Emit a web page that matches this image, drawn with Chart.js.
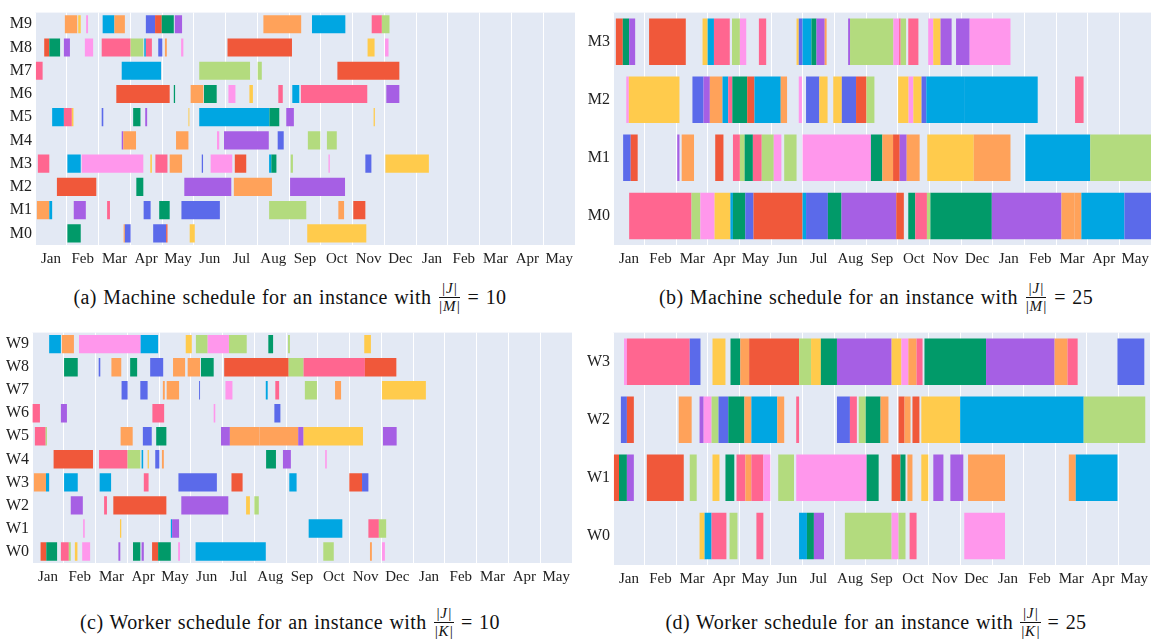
<!DOCTYPE html>
<html>
<head>
<meta charset="utf-8">
<script src="https://cdn.jsdelivr.net/npm/chart.js@4.4.1/dist/chart.umd.min.js"></script>
<style>
  body { margin: 0; background: #fff; width: 1156px; height: 639px; position: relative; overflow: hidden; font-family: 'Liberation Serif', serif; }
  .panel { position: absolute; }
  .cap { position: absolute; font-size: 20px; letter-spacing: 0.4px; word-spacing: 1px; color: #111; display: flex; align-items: center; justify-content: center; white-space: nowrap; height: 36px; }
  .frac { display: inline-flex; flex-direction: column; align-items: center; font-size: 15px; font-style: italic; margin: 0 7px; line-height: 15px; letter-spacing: 0.5px; }
  .frac span:first-child { border-bottom: 1px solid #111; padding: 0 2px 1px; }
  .frac span:last-child { padding-top: 1px; }
</style>
</head>
<body>
<div class="panel" style="left:0;top:0"><canvas id="chartA" width="580" height="272"></canvas></div>
<div class="panel" style="left:580px;top:0"><canvas id="chartB" width="576" height="272"></canvas></div>
<div class="panel" style="left:0;top:320px"><canvas id="chartC" width="580" height="272"></canvas></div>
<div class="panel" style="left:580px;top:320px"><canvas id="chartD" width="576" height="272"></canvas></div>

<div class="cap" style="left:0;top:279px;width:580px">(a) Machine schedule for an instance with<span class="frac"><span>|J|</span><span>|M|</span></span>= 10</div>
<div class="cap" style="left:596px;top:279px;width:560px">(b) Machine schedule for an instance with<span class="frac"><span>|J|</span><span>|M|</span></span>= 25</div>
<div class="cap" style="left:0;top:604px;width:580px">(c) Worker schedule for an instance with<span class="frac"><span>|J|</span><span>|K|</span></span>= 10</div>
<div class="cap" style="left:596px;top:604px;width:560px">(d) Worker schedule for an instance with<span class="frac"><span>|J|</span><span>|K|</span></span>= 25</div>

<script>
// month tick labels (one per month column, x in months from Jan 1)
const months = ['Jan', 'Feb', 'Mar', 'Apr', 'May', 'Jun', 'Jul', 'Aug', 'Sep', 'Oct', 'Nov', 'Dec', 'Jan', 'Feb', 'Mar', 'Apr', 'May'];

const machRows10 = ['M9', 'M8', 'M7', 'M6', 'M5', 'M4', 'M3', 'M2', 'M1', 'M0'];
const machRows25 = ['M3', 'M2', 'M1', 'M0'];
const workRows10 = ['W9', 'W8', 'W7', 'W6', 'W5', 'W4', 'W3', 'W2', 'W1', 'W0'];
const workRows25 = ['W3', 'W2', 'W1', 'W0'];

const colors = {
    blue: '#5B6AEA', red: '#F0583A', green: '#019A69', purple: '#A65FE4', orange: '#FFA25A',
    cyan: '#00A6E2', pink: '#FF6690', lime: '#B3DB7E', magenta: '#FF97EC', yellow: '#FFCB4C'
};

// [row, start month, end month, job colour]
const machA = [
    ['M9', 0.94, 1.33, 'orange'], ['M9', 1.36, 1.44, 'yellow'], ['M9', 1.61, 1.67, 'magenta'], ['M9', 2.13, 2.50, 'cyan'],
    ['M9', 2.50, 2.83, 'orange'], ['M9', 3.49, 3.78, 'blue'], ['M9', 3.78, 3.99, 'red'], ['M9', 3.99, 4.37, 'green'],
    ['M9', 4.40, 4.63, 'purple'], ['M9', 7.19, 8.38, 'orange'], ['M9', 8.72, 9.77, 'cyan'], ['M9', 10.60, 10.92, 'pink'],
    ['M9', 10.92, 11.16, 'lime'],
    ['M8', 0.29, 0.45, 'red'], ['M8', 0.45, 0.79, 'green'], ['M8', 0.91, 1.10, 'purple'], ['M8', 1.57, 1.83, 'magenta'],
    ['M8', 2.10, 3.01, 'pink'], ['M8', 3.01, 3.41, 'lime'], ['M8', 3.44, 3.49, 'cyan'], ['M8', 3.49, 3.68, 'pink'],
    ['M8', 3.88, 4.01, 'blue'], ['M8', 4.09, 4.15, 'orange'], ['M8', 4.60, 4.67, 'magenta'], ['M8', 6.06, 8.09, 'red'],
    ['M8', 10.47, 10.69, 'yellow'], ['M8', 11.02, 11.13, 'magenta'],
    ['M7', 0.03, 0.24, 'pink'], ['M7', 2.73, 3.97, 'cyan'], ['M7', 5.17, 6.77, 'lime'], ['M7', 7.01, 7.14, 'lime'],
    ['M7', 9.52, 11.47, 'red'],
    ['M6', 2.56, 4.24, 'red'], ['M6', 4.37, 4.41, 'green'], ['M6', 4.90, 5.30, 'orange'], ['M6', 5.32, 5.72, 'green'],
    ['M6', 6.09, 6.31, 'magenta'], ['M6', 6.75, 6.86, 'yellow'], ['M6', 7.66, 7.80, 'pink'], ['M6', 8.10, 8.32, 'cyan'],
    ['M6', 8.37, 10.46, 'pink'], ['M6', 11.06, 11.47, 'purple'],
    ['M5', 0.54, 0.91, 'cyan'], ['M5', 0.91, 1.16, 'pink'], ['M5', 1.16, 1.21, 'yellow'], ['M5', 2.10, 2.15, 'blue'],
    ['M5', 3.09, 3.32, 'green'], ['M5', 3.47, 3.53, 'purple'], ['M5', 4.83, 4.86, 'yellow'], ['M5', 5.17, 7.38, 'cyan'],
    ['M5', 7.38, 7.69, 'green'], ['M5', 7.91, 8.15, 'purple'], ['M5', 10.66, 10.70, 'yellow'],
    ['M4', 2.73, 2.78, 'purple'], ['M4', 2.78, 3.18, 'orange'], ['M4', 4.44, 4.83, 'orange'], ['M4', 5.73, 5.80, 'magenta'],
    ['M4', 5.95, 7.36, 'purple'], ['M4', 7.64, 7.83, 'blue'], ['M4', 8.59, 8.98, 'lime'], ['M4', 9.19, 9.50, 'lime'],
    ['M3', 0.09, 0.45, 'pink'], ['M3', 1.02, 1.44, 'cyan'], ['M3', 1.47, 3.41, 'magenta'], ['M3', 3.63, 3.68, 'yellow'],
    ['M3', 3.79, 4.17, 'pink'], ['M3', 4.24, 4.63, 'orange'], ['M3', 5.25, 5.29, 'blue'], ['M3', 5.53, 6.21, 'magenta'],
    ['M3', 6.29, 6.65, 'red'], ['M3', 7.37, 7.44, 'cyan'], ['M3', 7.44, 7.60, 'green'], ['M3', 8.05, 8.12, 'lime'],
    ['M3', 9.24, 9.28, 'magenta'], ['M3', 10.40, 10.59, 'blue'], ['M3', 11.03, 12.40, 'yellow'],
    ['M2', 0.69, 1.93, 'red'], ['M2', 3.19, 3.41, 'green'], ['M2', 4.70, 6.18, 'purple'], ['M2', 6.26, 7.46, 'orange'],
    ['M2', 8.03, 9.76, 'purple'],
    ['M1', 0.06, 0.45, 'orange'], ['M1', 0.45, 0.54, 'cyan'], ['M1', 1.22, 1.60, 'purple'], ['M1', 2.27, 2.36, 'pink'],
    ['M1', 3.42, 3.64, 'blue'], ['M1', 3.91, 4.24, 'green'], ['M1', 4.61, 5.82, 'blue'], ['M1', 7.37, 8.54, 'lime'],
    ['M1', 9.55, 9.73, 'orange'], ['M1', 10.02, 10.40, 'red'],
    ['M0', 1.02, 1.44, 'green'], ['M0', 2.79, 2.83, 'orange'], ['M0', 2.83, 3.01, 'blue'], ['M0', 3.72, 4.13, 'blue'],
    ['M0', 4.13, 4.17, 'red'], ['M0', 4.87, 5.03, 'yellow'], ['M0', 8.57, 10.43, 'yellow']
];

const machB = [
    ['M3', 0.09, 0.31, 'red'], ['M3', 0.31, 0.51, 'green'], ['M3', 0.51, 0.70, 'purple'], ['M3', 1.14, 2.30, 'red'],
    ['M3', 2.83, 2.99, 'yellow'], ['M3', 2.99, 3.19, 'cyan'], ['M3', 3.19, 3.69, 'pink'], ['M3', 3.76, 4.01, 'lime'],
    ['M3', 4.01, 4.21, 'magenta'], ['M3', 4.61, 4.84, 'pink'], ['M3', 5.80, 5.87, 'yellow'], ['M3', 5.87, 5.99, 'blue'],
    ['M3', 5.99, 6.27, 'cyan'], ['M3', 6.27, 6.43, 'green'], ['M3', 6.43, 6.69, 'purple'], ['M3', 6.69, 6.75, 'orange'],
    ['M3', 7.43, 7.49, 'purple'], ['M3', 7.49, 8.86, 'lime'], ['M3', 8.86, 9.04, 'magenta'], ['M3', 9.04, 9.09, 'pink'],
    ['M3', 9.09, 9.26, 'lime'], ['M3', 9.33, 9.65, 'pink'], ['M3', 9.96, 10.12, 'magenta'], ['M3', 10.12, 10.35, 'yellow'],
    ['M3', 10.35, 10.70, 'purple'], ['M3', 10.84, 11.27, 'purple'], ['M3', 11.27, 12.56, 'magenta'],
    ['M2', 0.42, 0.50, 'magenta'], ['M2', 0.50, 2.10, 'yellow'], ['M2', 2.51, 2.86, 'blue'], ['M2', 2.86, 3.06, 'purple'],
    ['M2', 3.06, 3.46, 'orange'], ['M2', 3.46, 3.64, 'cyan'], ['M2', 3.64, 3.77, 'pink'], ['M2', 3.77, 4.24, 'green'],
    ['M2', 4.24, 4.47, 'red'], ['M2', 4.47, 5.30, 'cyan'], ['M2', 5.30, 5.50, 'orange'], ['M2', 5.87, 5.97, 'magenta'],
    ['M2', 6.10, 6.52, 'blue'], ['M2', 6.52, 6.78, 'yellow'], ['M2', 6.96, 7.23, 'yellow'], ['M2', 7.23, 7.68, 'blue'],
    ['M2', 7.68, 8.01, 'red'], ['M2', 8.01, 8.26, 'lime'], ['M2', 9.01, 9.34, 'yellow'], ['M2', 9.34, 9.49, 'magenta'],
    ['M2', 9.49, 9.75, 'yellow'], ['M2', 9.75, 9.90, 'blue'], ['M2', 9.90, 11.12, 'cyan'], ['M2', 11.12, 13.42, 'cyan'],
    ['M2', 14.60, 14.87, 'pink'],
    ['M1', 0.32, 0.56, 'blue'], ['M1', 0.56, 0.78, 'red'], ['M1', 2.03, 2.10, 'purple'], ['M1', 2.17, 2.56, 'orange'],
    ['M1', 3.23, 3.49, 'red'], ['M1', 3.79, 4.01, 'pink'], ['M1', 4.01, 4.16, 'lime'], ['M1', 4.16, 4.42, 'green'],
    ['M1', 4.42, 4.70, 'pink'], ['M1', 4.70, 5.08, 'lime'], ['M1', 5.08, 5.32, 'magenta'], ['M1', 5.41, 5.80, 'lime'],
    ['M1', 5.99, 8.15, 'magenta'], ['M1', 8.15, 8.51, 'green'], ['M1', 8.51, 8.85, 'orange'], ['M1', 8.85, 9.06, 'red'],
    ['M1', 9.06, 9.28, 'purple'], ['M1', 9.28, 9.69, 'orange'], ['M1', 9.93, 11.40, 'yellow'], ['M1', 11.40, 12.56, 'orange'],
    ['M1', 13.03, 15.08, 'cyan'], ['M1', 15.08, 17.0, 'lime'],
    ['M0', 0.51, 2.48, 'pink'], ['M0', 2.48, 2.76, 'lime'], ['M0', 2.76, 3.21, 'magenta'], ['M0', 3.21, 3.71, 'yellow'],
    ['M0', 3.71, 3.79, 'cyan'], ['M0', 3.79, 4.18, 'green'], ['M0', 4.18, 4.44, 'blue'], ['M0', 4.44, 5.99, 'red'],
    ['M0', 5.99, 6.10, 'cyan'], ['M0', 6.10, 6.79, 'blue'], ['M0', 6.79, 7.22, 'green'], ['M0', 7.22, 8.95, 'purple'],
    ['M0', 8.95, 9.19, 'red'], ['M0', 9.33, 9.55, 'green'], ['M0', 9.55, 9.92, 'pink'], ['M0', 9.92, 10.03, 'lime'],
    ['M0', 10.03, 11.97, 'green'], ['M0', 11.97, 14.17, 'purple'], ['M0', 14.17, 14.59, 'orange'], ['M0', 14.59, 14.80, 'orange'],
    ['M0', 14.80, 16.16, 'cyan'], ['M0', 16.16, 17.0, 'blue']
];

const workC = [
    ['W9', 0.54, 0.91, 'cyan'], ['W9', 0.94, 1.32, 'orange'], ['W9', 1.48, 3.42, 'magenta'], ['W9', 3.42, 3.97, 'cyan'],
    ['W9', 4.84, 5.03, 'yellow'], ['W9', 5.16, 5.53, 'lime'], ['W9', 5.53, 6.20, 'magenta'], ['W9', 6.20, 6.76, 'lime'],
    ['W9', 7.44, 7.59, 'green'], ['W9', 8.06, 8.12, 'lime'], ['W9', 10.46, 10.67, 'yellow'],
    ['W8', 1.01, 1.44, 'green'], ['W8', 2.10, 2.15, 'blue'], ['W8', 2.50, 2.81, 'orange'], ['W8', 3.09, 3.31, 'green'],
    ['W8', 3.72, 4.13, 'blue'], ['W8', 4.44, 4.82, 'orange'], ['W8', 4.90, 5.29, 'orange'], ['W8', 5.32, 5.72, 'green'],
    ['W8', 6.05, 8.08, 'red'], ['W8', 8.08, 8.55, 'lime'], ['W8', 8.55, 10.48, 'pink'], ['W8', 10.48, 11.47, 'red'],
    ['W7', 2.82, 3.01, 'blue'], ['W7', 3.41, 3.64, 'blue'], ['W7', 4.12, 4.18, 'orange'], ['W7', 4.24, 4.63, 'orange'],
    ['W7', 5.26, 5.29, 'blue'], ['W7', 6.09, 6.31, 'magenta'], ['W7', 7.36, 7.42, 'cyan'], ['W7', 7.66, 7.78, 'pink'],
    ['W7', 8.59, 8.97, 'lime'], ['W7', 9.54, 9.73, 'orange'], ['W7', 11.02, 12.40, 'yellow'],
    ['W6', 0.02, 0.25, 'pink'], ['W6', 0.91, 1.10, 'purple'], ['W6', 3.79, 4.16, 'pink'], ['W6', 5.72, 5.77, 'magenta'],
    ['W6', 7.63, 7.82, 'blue'],
    ['W5', 0.09, 0.43, 'pink'], ['W5', 0.43, 0.47, 'lime'], ['W5', 2.79, 3.17, 'orange'], ['W5', 3.49, 3.77, 'blue'],
    ['W5', 3.91, 4.23, 'green'], ['W5', 5.95, 6.23, 'purple'], ['W5', 6.23, 7.16, 'orange'], ['W5', 7.16, 8.38, 'orange'],
    ['W5', 8.38, 8.55, 'purple'], ['W5', 8.55, 10.42, 'yellow'], ['W5', 11.05, 11.48, 'purple'],
    ['W4', 0.68, 1.92, 'red'], ['W4', 2.11, 3.01, 'pink'], ['W4', 3.01, 3.41, 'lime'], ['W4', 3.45, 3.50, 'cyan'],
    ['W4', 3.64, 3.68, 'yellow'], ['W4', 3.88, 4.01, 'blue'], ['W4', 4.09, 4.15, 'orange'], ['W4', 7.37, 7.68, 'green'],
    ['W4', 7.90, 8.15, 'purple'], ['W4', 9.23, 9.28, 'magenta'],
    ['W3', 0.06, 0.44, 'orange'], ['W3', 0.44, 0.54, 'cyan'], ['W3', 1.01, 1.44, 'cyan'], ['W3', 2.13, 2.49, 'cyan'],
    ['W3', 3.52, 3.67, 'pink'], ['W3', 4.61, 5.82, 'blue'], ['W3', 6.28, 6.63, 'red'], ['W3', 8.10, 8.33, 'cyan'],
    ['W3', 9.99, 10.39, 'red'], ['W3', 10.39, 10.59, 'blue'],
    ['W2', 1.22, 1.60, 'purple'], ['W2', 2.27, 2.36, 'pink'], ['W2', 2.56, 4.23, 'red'], ['W2', 4.70, 6.18, 'purple'],
    ['W2', 6.74, 6.86, 'yellow'], ['W2', 7.00, 7.14, 'lime'],
    ['W1', 1.61, 1.66, 'magenta'], ['W1', 2.77, 2.81, 'yellow'], ['W1', 4.37, 4.41, 'cyan'], ['W1', 4.41, 4.63, 'purple'],
    ['W1', 8.71, 9.77, 'cyan'], ['W1', 10.59, 10.92, 'pink'], ['W1', 10.92, 11.15, 'lime'],
    ['W0', 0.27, 0.45, 'red'], ['W0', 0.45, 0.79, 'green'], ['W0', 0.91, 1.16, 'pink'], ['W0', 1.16, 1.22, 'lime'],
    ['W0', 1.35, 1.43, 'yellow'], ['W0', 1.58, 1.83, 'magenta'], ['W0', 2.72, 2.78, 'purple'], ['W0', 3.18, 3.41, 'green'],
    ['W0', 3.45, 3.52, 'purple'], ['W0', 3.78, 3.97, 'red'], ['W0', 3.97, 4.37, 'green'], ['W0', 4.60, 4.66, 'magenta'],
    ['W0', 5.15, 7.36, 'cyan'], ['W0', 9.17, 9.50, 'lime'], ['W0', 10.64, 10.70, 'orange'], ['W0', 11.02, 11.11, 'magenta']
];

const workD = [
    ['W3', 0.35, 0.44, 'magenta'], ['W3', 0.44, 2.43, 'pink'], ['W3', 2.43, 2.77, 'blue'], ['W3', 3.15, 3.56, 'yellow'],
    ['W3', 3.72, 4.03, 'green'], ['W3', 4.03, 4.31, 'orange'], ['W3', 4.31, 5.89, 'red'], ['W3', 5.89, 6.27, 'lime'],
    ['W3', 6.27, 6.58, 'yellow'], ['W3', 6.58, 7.09, 'green'], ['W3', 7.09, 8.82, 'purple'], ['W3', 8.82, 9.13, 'yellow'],
    ['W3', 9.13, 9.35, 'magenta'], ['W3', 9.35, 9.61, 'orange'], ['W3', 9.61, 9.80, 'pink'], ['W3', 9.86, 11.81, 'green'],
    ['W3', 11.81, 13.98, 'purple'], ['W3', 13.98, 14.39, 'orange'], ['W3', 14.39, 14.71, 'pink'], ['W3', 15.97, 16.82, 'blue'],
    ['W2', 0.25, 0.44, 'blue'], ['W2', 0.44, 0.66, 'red'], ['W2', 2.08, 2.49, 'orange'], ['W2', 2.74, 2.87, 'purple'],
    ['W2', 2.87, 3.12, 'magenta'], ['W2', 3.12, 3.34, 'lime'], ['W2', 3.34, 3.65, 'blue'], ['W2', 3.65, 4.16, 'green'],
    ['W2', 4.16, 4.38, 'orange'], ['W2', 4.38, 5.20, 'cyan'], ['W2', 5.20, 5.42, 'orange'], ['W2', 5.80, 5.89, 'pink'],
    ['W2', 7.09, 7.50, 'blue'], ['W2', 7.50, 7.72, 'pink'], ['W2', 7.78, 8.00, 'lime'], ['W2', 8.00, 8.47, 'green'],
    ['W2', 8.47, 8.72, 'orange'], ['W2', 9.04, 9.23, 'red'], ['W2', 9.23, 9.42, 'orange'], ['W2', 9.48, 9.70, 'red'],
    ['W2', 9.76, 10.99, 'yellow'], ['W2', 10.99, 14.90, 'cyan'], ['W2', 14.90, 16.85, 'lime'],
    ['W1', 0.03, 0.19, 'red'], ['W1', 0.19, 0.44, 'green'], ['W1', 0.44, 0.66, 'purple'], ['W1', 1.07, 2.24, 'red'],
    ['W1', 2.43, 2.65, 'lime'], ['W1', 3.15, 3.37, 'yellow'], ['W1', 3.56, 3.84, 'green'], ['W1', 3.91, 4.19, 'pink'],
    ['W1', 4.19, 4.38, 'orange'], ['W1', 4.38, 4.76, 'pink'], ['W1', 4.76, 4.98, 'magenta'], ['W1', 5.23, 5.73, 'lime'],
    ['W1', 5.80, 8.03, 'magenta'], ['W1', 8.03, 8.41, 'green'], ['W1', 8.82, 9.10, 'red'], ['W1', 9.10, 9.26, 'green'],
    ['W1', 9.32, 9.48, 'orange'], ['W1', 9.76, 9.98, 'yellow'], ['W1', 10.14, 10.46, 'purple'], ['W1', 10.68, 11.09, 'purple'],
    ['W1', 11.24, 12.41, 'orange'], ['W1', 14.43, 14.65, 'orange'], ['W1', 14.65, 15.97, 'cyan'],
    ['W0', 2.74, 2.90, 'yellow'], ['W0', 2.90, 3.12, 'cyan'], ['W0', 3.12, 3.59, 'pink'], ['W0', 3.69, 3.94, 'lime'],
    ['W0', 4.54, 4.76, 'pink'], ['W0', 5.89, 6.14, 'cyan'], ['W0', 6.14, 6.36, 'green'], ['W0', 6.36, 6.68, 'purple'],
    ['W0', 7.34, 8.82, 'lime'], ['W0', 8.82, 9.04, 'magenta'], ['W0', 9.04, 9.26, 'lime'], ['W0', 9.39, 9.61, 'pink'],
    ['W0', 11.12, 12.41, 'magenta']
];

// light blue-grey plot background behind the grid
const plotBg = {
    id: 'plotBg',
    beforeDraw(chart) {
        const a = chart.chartArea;
        const ctx = chart.ctx;
        ctx.save();
        ctx.fillStyle = '#E3E9F4';
        ctx.fillRect(a.left, a.top, a.right - a.left, a.bottom - a.top);
        ctx.restore();
    }
};

function gantt(id, rows, tasks, o) {
    return new Chart(document.getElementById(id), {
        type: 'bar',
        data: {
            labels: rows,
            datasets: [{
                data: tasks.map(t => ({ x: [t[1], t[2]], y: t[0] })),
                backgroundColor: tasks.map(t => colors[t[3]]),
                borderWidth: 0,
                barPercentage: 1,
                categoryPercentage: o.bar
            }]
        },
        options: {
            indexAxis: 'y',
            responsive: false,
            animation: false,
            layout: { padding: { top: o.top, right: o.right, left: 0, bottom: 0 } },
            plugins: { legend: { display: false }, tooltip: { enabled: false } },
            scales: {
                x: {
                    type: 'linear',
                    min: 0,
                    max: 17,
                    afterFit: s => { s.height = o.xh; },
                    grid: { color: '#ffffff', lineWidth: 1, drawTicks: false },
                    border: { display: false },
                    ticks: {
                        stepSize: 1,
                        autoSkip: false,
                        maxRotation: 0,
                        padding: 5,
                        labelOffset: 15.9,
                        color: '#222',
                        font: { family: 'Liberation Serif', size: 15 },
                        callback: v => months[v] ?? ''
                    }
                },
                y: {
                    afterFit: s => { s.width = o.yw; },
                    grid: { display: false, drawTicks: false },
                    border: { display: false },
                    ticks: {
                        padding: 3,
                        color: '#222',
                        font: { family: 'Liberation Serif', size: 16 }
                    }
                }
            }
        },
        plugins: [plotBg]
    });
}

gantt('chartA', machRows10, machA, { bar: 0.78, top: 6, right: 5, xh: 27, yw: 35 });
gantt('chartB', machRows25, machB, { bar: 0.80, top: 6, right: 3, xh: 27, yw: 33 });
gantt('chartC', workRows10, workC, { bar: 0.80, top: 5, right: 8, xh: 29, yw: 32 });
gantt('chartD', workRows25, workD, { bar: 0.80, top: 5, right: 6, xh: 27, yw: 33 });
</script>
</body>
</html>
